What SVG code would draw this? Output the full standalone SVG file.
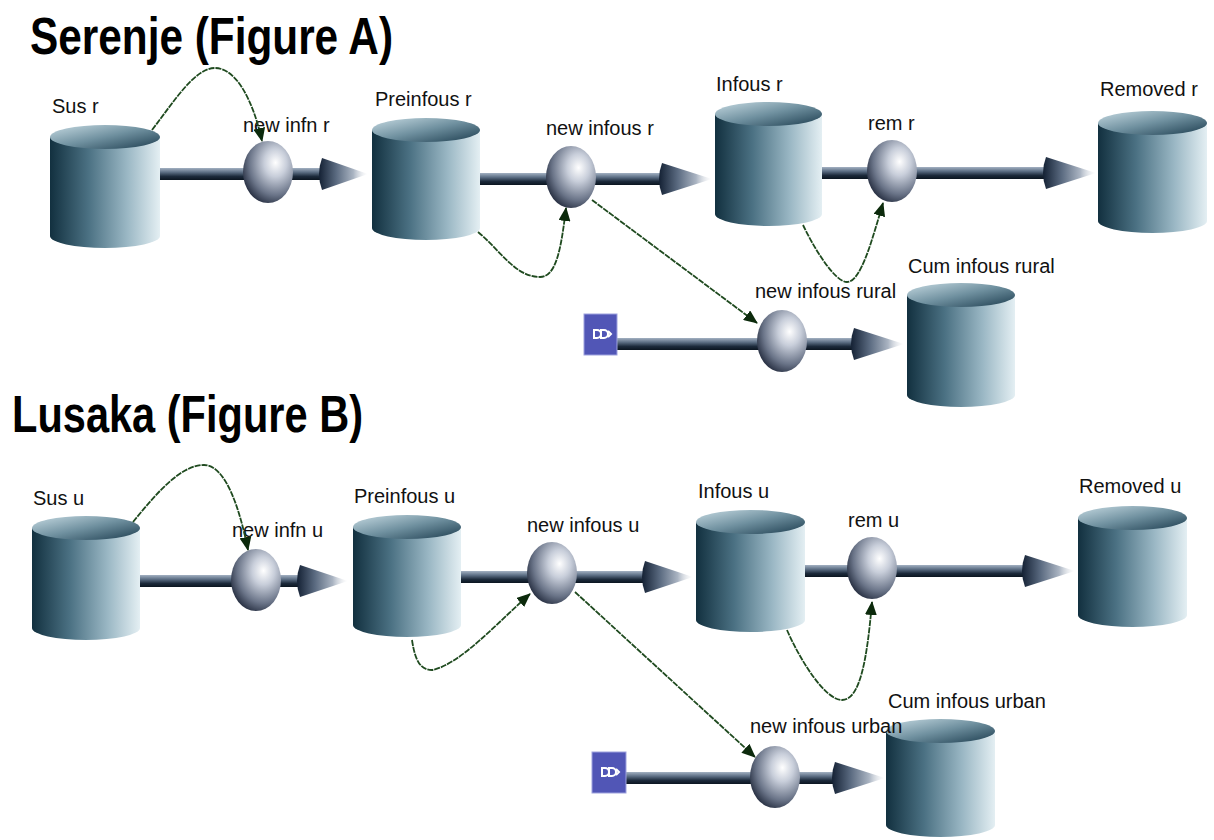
<svg xmlns="http://www.w3.org/2000/svg" width="1214" height="840" viewBox="0 0 1214 840">
<style>
.lbl{font-family:"Liberation Sans",Arial,sans-serif;font-size:20px;fill:#111}
.title{font-family:"Liberation Sans",Arial,sans-serif;font-weight:bold;font-size:52px;fill:#000}
.side{fill:url(#cylSide)}
.top{fill:url(#cylTop)}
.pipe{fill:url(#pipeG)}
.cone{fill:url(#coneG)}
.valve{fill:url(#sphere)}
.link{fill:none;stroke:#1f4a1f;stroke-width:1.8;stroke-dasharray:6 1;marker-end:url(#ah)}
.cloud{fill:#5156b6;stroke:#9ea2de;stroke-width:1}
.cloudsym{fill:none;stroke:#fff;stroke-width:2}
</style>
<defs>
<linearGradient id="cylSide" x1="0" y1="0" x2="1" y2="0">
<stop offset="0" stop-color="#12303f"/>
<stop offset="0.35" stop-color="#4b7183"/>
<stop offset="0.7" stop-color="#9ab7c4"/>
<stop offset="1" stop-color="#e4eff3"/>
</linearGradient>
<linearGradient id="cylTop" x1="0" y1="0" x2="1" y2="1">
<stop offset="0" stop-color="#c6dae2"/>
<stop offset="0.5" stop-color="#6f909f"/>
<stop offset="1" stop-color="#1c3c4e"/>
</linearGradient>
<linearGradient id="pipeG" x1="0" y1="0" x2="0" y2="1">
<stop offset="0" stop-color="#a3b1c2"/>
<stop offset="0.35" stop-color="#5d6f85"/>
<stop offset="0.7" stop-color="#1c2a3b"/>
<stop offset="1" stop-color="#0b1520"/>
</linearGradient>
<linearGradient id="coneG" x1="0" y1="0" x2="1" y2="0">
<stop offset="0" stop-color="#142134"/>
<stop offset="0.35" stop-color="#5a6a80"/>
<stop offset="0.7" stop-color="#aab4c2"/>
<stop offset="1" stop-color="#ffffff" stop-opacity="0.3"/>
</linearGradient>
<radialGradient id="sphere" cx="0.65" cy="0.35" r="0.75">
<stop offset="0" stop-color="#ffffff"/>
<stop offset="0.3" stop-color="#c8ceda"/>
<stop offset="0.7" stop-color="#6a7488"/>
<stop offset="1" stop-color="#1b2335"/>
</radialGradient>
<marker id="ah" viewBox="0 0 14 12" refX="13" refY="6" markerWidth="14" markerHeight="12" markerUnits="userSpaceOnUse" orient="auto">
<path d="M0,0 L14,6 L0,12 Z" fill="#0c2a0c"/>
</marker>
</defs>
<rect width="1214" height="840" fill="#fff"/>

<text class="title" x="30" y="54" textLength="363" lengthAdjust="spacingAndGlyphs">Serenje (Figure A)</text>
<text class="title" x="12" y="432" textLength="351" lengthAdjust="spacingAndGlyphs">Lusaka (Figure B)</text>

<g id="flows">
<rect class="pipe" x="160" y="168" width="164" height="12"/>
<path class="cone" d="M322,158 L368,174 L322,190 Q316,174 322,158 Z"/>
<rect class="pipe" x="480" y="173" width="184" height="12"/>
<path class="cone" d="M662,163 L712,179 L662,195 Q656,179 662,163 Z"/>
<rect class="pipe" x="822" y="167" width="226" height="12"/>
<path class="cone" d="M1046,157 L1096,173 L1046,189 Q1040,173 1046,157 Z"/>
<rect class="pipe" x="617" y="338" width="239" height="12"/>
<path class="cone" d="M854,328 L904,344 L854,360 Q848,344 854,328 Z"/>
<rect class="pipe" x="140" y="575" width="162" height="12"/>
<path class="cone" d="M300,565 L348,581 L300,597 Q294,581 300,565 Z"/>
<rect class="pipe" x="461" y="571" width="186" height="12"/>
<path class="cone" d="M645,561 L693,577 L645,593 Q639,577 645,561 Z"/>
<rect class="pipe" x="805" y="565" width="222" height="12"/>
<path class="cone" d="M1025,555 L1075,571 L1025,587 Q1019,571 1025,555 Z"/>
<rect class="pipe" x="626" y="772" width="211" height="12"/>
<path class="cone" d="M835,762 L885,778 L835,794 Q829,778 835,762 Z"/>
</g>

<g id="sus-r"><path class="side" d="M50,137 L50,236 A55,12 0 0 0 160,236 L160,137 Z"/><ellipse class="top" cx="105" cy="137" rx="55" ry="12"/><text class="lbl" x="52" y="113">Sus r</text></g>
<g id="preinfous-r"><path class="side" d="M372,130 L372,228 A54,12 0 0 0 480,228 L480,130 Z"/><ellipse class="top" cx="426" cy="130" rx="54" ry="12"/><text class="lbl" x="375" y="106">Preinfous r</text></g>
<g id="infous-r"><path class="side" d="M715,114 L715,214 A53.5,12 0 0 0 822,214 L822,114 Z"/><ellipse class="top" cx="768.5" cy="114" rx="53.5" ry="12"/><text class="lbl" x="716" y="91">Infous r</text></g>
<g id="removed-r"><path class="side" d="M1098,123 L1098,221 A54.5,12 0 0 0 1207,221 L1207,123 Z"/><ellipse class="top" cx="1152.5" cy="123" rx="54.5" ry="12"/><text class="lbl" x="1100" y="96">Removed r</text></g>
<g id="cum-infous-rural"><path class="side" d="M907,295 L907,395 A54,12 0 0 0 1015,395 L1015,295 Z"/><ellipse class="top" cx="961" cy="295" rx="54" ry="12"/><text class="lbl" x="908" y="273">Cum infous rural</text></g>
<g id="cloud-r"><rect class="cloud" x="584" y="314" width="33" height="41"/><path class="cloudsym" d="M594,330 h3 a4,4 0 0 1 0,8 h-3 Z M601,330 h3 a4,4 0 0 1 0,8 h-3 Z M608,331 l3,3 l-3,3"/></g>

<g id="new-infn-r"><ellipse class="valve" cx="268" cy="172" rx="25" ry="31"/><text class="lbl" x="243" y="132">new infn r</text></g>
<g id="new-infous-r"><ellipse class="valve" cx="571" cy="177" rx="25" ry="31"/><text class="lbl" x="546" y="135">new infous r</text></g>
<g id="rem-r"><ellipse class="valve" cx="892" cy="171" rx="25" ry="31"/><text class="lbl" x="868" y="130">rem r</text></g>
<g id="new-infous-rural"><ellipse class="valve" cx="782" cy="341" rx="25" ry="31"/><text class="lbl" x="755" y="298">new infous rural</text></g>

<g id="sus-u"><path class="side" d="M32,528 L32,628 A54,12 0 0 0 140,628 L140,528 Z"/><ellipse class="top" cx="86" cy="528" rx="54" ry="12"/><text class="lbl" x="33" y="505">Sus u</text></g>
<g id="preinfous-u"><path class="side" d="M353,527 L353,625 A54,12 0 0 0 461,625 L461,527 Z"/><ellipse class="top" cx="407" cy="527" rx="54" ry="12"/><text class="lbl" x="354" y="503">Preinfous u</text></g>
<g id="infous-u"><path class="side" d="M696,522 L696,620 A54.5,12 0 0 0 805,620 L805,522 Z"/><ellipse class="top" cx="750.5" cy="522" rx="54.5" ry="12"/><text class="lbl" x="698" y="498">Infous u</text></g>
<g id="removed-u"><path class="side" d="M1078,518 L1078,615 A54.5,12 0 0 0 1187,615 L1187,518 Z"/><ellipse class="top" cx="1132.5" cy="518" rx="54.5" ry="12"/><text class="lbl" x="1079" y="493">Removed u</text></g>
<g id="cum-infous-urban"><path class="side" d="M886,731 L886,825 A54.5,12 0 0 0 995,825 L995,731 Z"/><ellipse class="top" cx="940.5" cy="731" rx="54.5" ry="12"/><text class="lbl" x="888" y="708">Cum infous urban</text></g>
<g id="cloud-u"><rect class="cloud" x="592" y="752" width="34" height="41"/><path class="cloudsym" d="M602,768 h3 a4,4 0 0 1 0,8 h-3 Z M609,768 h3 a4,4 0 0 1 0,8 h-3 Z M616,769 l3,3 l-3,3"/></g>

<g id="new-infn-u"><ellipse class="valve" cx="256" cy="580" rx="25" ry="31"/><text class="lbl" x="232" y="537">new infn u</text></g>
<g id="new-infous-u"><ellipse class="valve" cx="552" cy="573" rx="25" ry="31"/><text class="lbl" x="527" y="532">new infous u</text></g>
<g id="rem-u"><ellipse class="valve" cx="872" cy="568" rx="25" ry="31"/><text class="lbl" x="848" y="527">rem u</text></g>
<g id="new-infous-urban"><ellipse class="valve" cx="775" cy="777" rx="25" ry="31"/><text class="lbl" x="750" y="733">new infous urban</text></g>

<g id="links">
<path class="link" d="M152,130 C175,100 195,68 215,68 C236,68 253,100 262,141"/>
<path class="link" d="M478,232 C500,250 515,277 540,277 C556,277 561,250 566,208"/>
<path class="link" d="M592,200 L757,323"/>
<path class="link" d="M803,225 C815,250 835,282 847,282 C861,282 872,240 883,203"/>
<path class="link" d="M133,522 C155,495 180,465 204,465 C226,465 240,510 248,550"/>
<path class="link" d="M412,640 C415,660 420,670 432,670 C460,665 500,620 530,594"/>
<path class="link" d="M575,592 L755,757"/>
<path class="link" d="M787,630 C800,660 825,700 842,700 C860,700 867,660 872,602"/>
</g>
</svg>
